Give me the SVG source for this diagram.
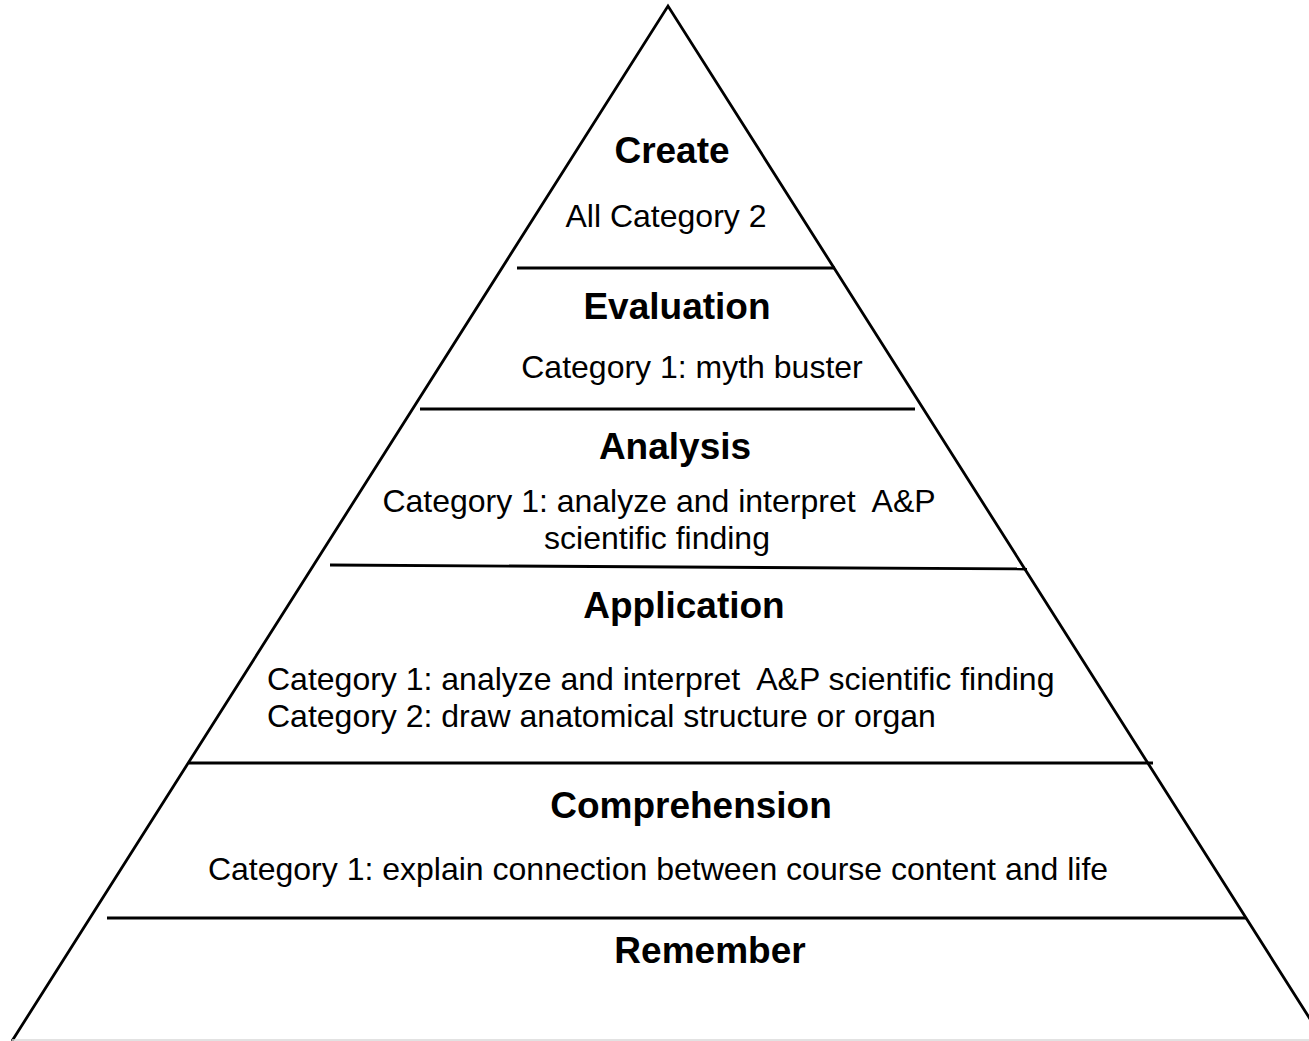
<svg xmlns="http://www.w3.org/2000/svg" width="1309" height="1041" viewBox="0 0 1309 1041">
<style>
.edge{stroke:#000;stroke-width:2.8;fill:none}
.t{font-family:"Liberation Sans",Arial,sans-serif;fill:#000}
.h{font-size:37px;font-weight:bold;text-anchor:middle}
.b{font-size:32px}
.c{text-anchor:middle}
</style>
<rect width="1309" height="1041" fill="#fff"/>
<g id="pyramid">
<polyline class="edge" points="12,1041 668,6 1324,1041"/>
<line x1="12" y1="1040" x2="1309" y2="1040" stroke="#d9d9d9" stroke-width="1.5"/>
</g>
<g id="connectors">
<line class="edge" x1="517" y1="268" x2="835" y2="268"/>
<line class="edge" x1="420" y1="409" x2="915" y2="409"/>
<line class="edge" x1="330" y1="565" x2="1027" y2="569"/>
<line class="edge" x1="189" y1="763" x2="1153" y2="763"/>
<line class="edge" x1="107" y1="918" x2="1246" y2="918"/>
</g>
<g id="create">
<text class="t h" x="672" y="163">Create</text>
<text class="t b c" x="666" y="227">All Category 2</text>
</g>
<g id="evaluation">
<text class="t h" x="677" y="319">Evaluation</text>
<text class="t b c" x="692" y="378">Category 1: myth buster</text>
</g>
<g id="analysis">
<text class="t h" x="675" y="459">Analysis</text>
<text class="t b c" x="659" y="512" xml:space="preserve">Category 1: analyze and interpret  A&amp;P</text>
<text class="t b c" x="657" y="549">scientific finding</text>
</g>
<g id="application">
<text class="t h" x="684" y="618">Application</text>
<text class="t b" x="267" y="690" xml:space="preserve">Category 1: analyze and interpret  A&amp;P scientific finding</text>
<text class="t b" x="267" y="727">Category 2: draw anatomical structure or organ</text>
</g>
<g id="comprehension">
<text class="t h" x="691" y="818">Comprehension</text>
<text class="t b c" x="658" y="880">Category 1: explain connection between course content and life</text>
</g>
<g id="remember">
<text class="t h" x="710" y="963">Remember</text>
</g>
</svg>
